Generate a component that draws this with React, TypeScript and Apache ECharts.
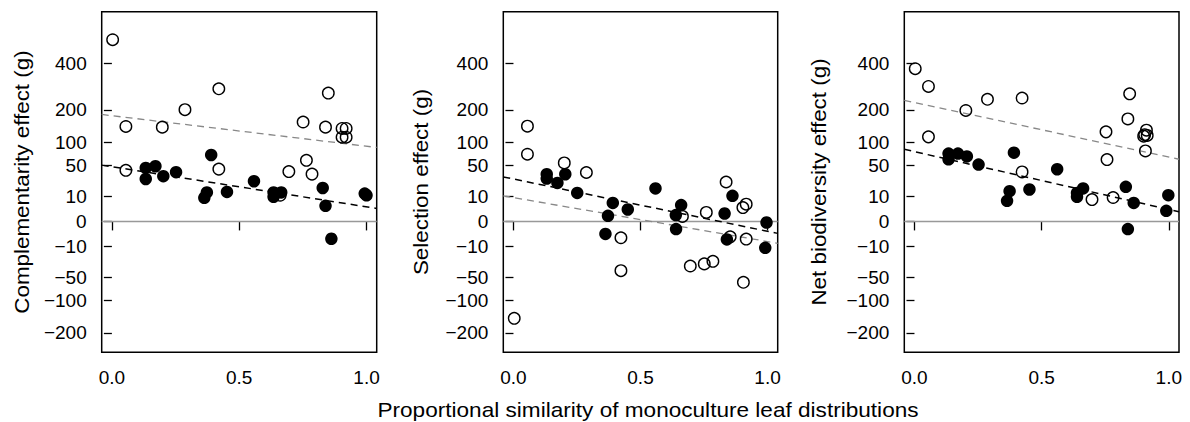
import React, { useEffect, useRef } from "react";
import * as echarts from "echarts";

// ---- data (values in g; x = proportional similarity) ----
const compOpen: number[][] = [
  [0.003, 531], [0.055, 145], [0.198, 143], [0.287, 201], [0.42, 283], [0.85, 265],
  [0.751, 159], [0.839, 143], [0.904, 139], [0.92, 139], [0.904, 114], [0.92, 114],
  [0.055, 42], [0.42, 44], [0.695, 40], [0.764, 60], [0.786, 36], [0.661, 11],
];
const compFilled: number[][] = [
  [0.133, 46], [0.171, 49], [0.133, 29], [0.202, 33], [0.252, 39], [0.39, 71],
  [0.373, 13.5], [0.363, 9], [0.452, 14], [0.558, 26], [0.635, 13.5], [0.635, 9.7],
  [0.665, 13.5], [0.828, 18], [0.839, 3.9], [0.993, 12.5], [1.0, 11], [0.862, -4.85],
];
const compOpenFit: number[][] = [[-0.04, 184], [1.04, 88]];
const compFilledFit: number[][] = [[-0.04, 51], [1.04, 2.7]];

const selOpen: number[][] = [
  [0.055, 146], [0.055, 72.6], [0.2, 55], [0.287, 38.5], [0.837, 25], [0.665, 0.4],
  [0.759, 1.3], [0.903, 3.1], [0.916, 4.8], [0.853, -3.8], [0.916, -5], [0.423, -4.3],
  [0.423, -39], [0.696, -32], [0.751, -29], [0.785, -25.6], [0.905, -59.6], [0.003, -151],
];
const selFilled: number[][] = [
  [0.131, 35.8], [0.131, 29.6], [0.173, 23.9], [0.204, 35.8], [0.251, 13.1], [0.391, 5.5],
  [0.45, 2.3], [0.372, 0.5], [0.362, -2.5], [0.559, 17.5], [0.66, 4.3], [0.639, 0.64],
  [0.64, -0.95], [0.862, 10.5], [0.831, 1.0], [0.84, -5.2], [0.996, -0.02], [0.991, -11.2],
];
const selOpenFit: number[][] = [[-0.04, 10.5], [1.04, -7.7]];
const selFilledFit: number[][] = [[-0.04, 31.9], [1.04, -2.3]];

const netOpen: number[][] = [
  [0.003, 375], [0.055, 293], [0.055, 115], [0.202, 198], [0.287, 240], [0.423, 245],
  [0.423, 39.4], [0.846, 262], [0.839, 169], [0.753, 129], [0.757, 61.6], [0.912, 134],
  [0.901, 117], [0.915, 119], [0.905, 121], [0.908, 80], [0.698, 7.7], [0.781, 9.2],
];
const netFilled: number[][] = [
  [0.134, 74], [0.134, 62], [0.171, 74], [0.206, 68], [0.252, 52], [0.391, 76],
  [0.374, 14.7], [0.364, 6.8], [0.452, 16.4], [0.561, 43.8], [0.663, 17.5], [0.639, 13.1],
  [0.639, 9.7], [0.831, 19.2], [0.862, 5.5], [0.839, -0.95], [0.998, 11.1], [0.99, 1.8],
];
const netOpenFit: number[][] = [[-0.04, 236], [1.04, 62.2]];
const netFilledFit: number[][] = [[-0.04, 83.7], [1.04, 1.5]];

const zeroLine: number[][] = [[-0.04, 0], [1.04, 0]];

const yTickValues = [400, 200, 100, 50, 10, 0, -10, -50, -100, -200];
const xTickValues = [0, 0.5, 1.0];
const yTitles = ["Complementarity effect (g)", "Selection effect (g)", "Net biodiversity effect (g)"];
const xTitle = "Proportional similarity of monoculture leaf distributions";

// signed square-root axis transform
const ssqrt = (v: number) => Math.sign(v) * Math.sqrt(Math.abs(v));
const tr = (pts: number[][]) => pts.map((p) => [p[0], ssqrt(p[1])]);

const FONT = '"Liberation Sans", Arial, Helvetica, sans-serif';

export default function App() {
  const ref = useRef<HTMLDivElement>(null);
  useEffect(() => {
    if (!ref.current) return;
    const chart = echarts.init(ref.current, undefined, { renderer: "svg" });
    const panels = [
      { open: compOpen, filled: compFilled, oFit: compOpenFit, fFit: compFilledFit, left: 101.7, width: 275, titleX: 21.5 },
      { open: selOpen, filled: selFilled, oFit: selOpenFit, fFit: selFilledFit, left: 503.3, width: 274.4, titleX: 421 },
      { open: netOpen, filled: netFilled, oFit: netOpenFit, fFit: netFilledFit, left: 904.3, width: 274.7, titleX: 819 },
    ];
    const yCustom = yTickValues.map(ssqrt);
    const grid: any[] = [];
    const xAxis: any[] = [];
    const yAxis: any[] = [];
    const series: any[] = [];
    const graphic: any[] = [];
    panels.forEach((p, i) => {
      grid.push({
        left: p.left, top: 11.7, width: p.width, height: 340.6,
        show: true, borderColor: "#000", borderWidth: 1.5, backgroundColor: "transparent",
      });
      xAxis.push({
        type: "value", gridIndex: i, min: -0.04, max: 1.04,
        axisLine: { show: false },
        splitLine: { show: false },
        axisTick: { show: true, length: 9, customValues: xTickValues, lineStyle: { color: "#000", width: 1.3 } },
        axisLabel: {
          show: true, customValues: xTickValues, margin: 16, color: "#000",
          fontSize: 19, fontFamily: FONT, formatter: (v: number) => v.toFixed(1),
        },
      });
      yAxis.push({
        type: "value", gridIndex: i, min: -16.6, max: 26.6,
        axisLine: { show: false },
        splitLine: { show: false },
        axisTick: { show: true, length: 8, customValues: yCustom, lineStyle: { color: "#000", width: 1.3 } },
        axisLabel: {
          show: true, customValues: yCustom, margin: 15, color: "#000",
          fontSize: 19, fontFamily: FONT,
          formatter: (v: number) => {
            const r = Math.round(Math.sign(v) * v * v);
            return r < 0 ? "\u2212" + -r : String(r);
          },
        },
      });
      series.push(
        {
          type: "line", xAxisIndex: i, yAxisIndex: i, data: zeroLine, symbol: "none",
          lineStyle: { color: "#999", width: 1.5 }, z: 1, silent: true,
        },
        {
          type: "line", xAxisIndex: i, yAxisIndex: i, data: tr(p.oFit), symbol: "none",
          lineStyle: { color: "#888", width: 1.3, type: [7, 5] }, z: 2, silent: true,
        },
        {
          type: "line", xAxisIndex: i, yAxisIndex: i, data: tr(p.fFit), symbol: "none",
          lineStyle: { color: "#000", width: 1.5, type: [7, 5] }, z: 2, silent: true,
        },
        {
          type: "scatter", xAxisIndex: i, yAxisIndex: i, data: tr(p.filled), symbol: "circle",
          symbolSize: 12.5, itemStyle: { color: "#000", borderWidth: 0, opacity: 1 }, z: 3,
        },
        {
          type: "scatter", xAxisIndex: i, yAxisIndex: i, data: tr(p.open), symbol: "circle",
          symbolSize: 11.5, itemStyle: { color: "rgba(0,0,0,0)", borderColor: "#000", borderWidth: 1.4, opacity: 1 }, z: 4,
        }
      );
      graphic.push({
        type: "text", x: p.titleX, y: 182, rotation: Math.PI / 2, scaleX: 1.12,
        style: {
          text: yTitles[i], font: `20px ${FONT}`, fill: "#000",
          align: "center", verticalAlign: "middle", textAlign: "center", textVerticalAlign: "middle",
        },
      });
    });
    graphic.push({
      type: "text", x: 648, y: 410, scaleX: 1.13,
      style: {
        text: xTitle, font: `20px ${FONT}`, fill: "#000",
        align: "center", verticalAlign: "middle", textAlign: "center", textVerticalAlign: "middle",
      },
    });
    chart.setOption({
      animation: false,
      backgroundColor: "#fff",
      grid, xAxis, yAxis, series, graphic,
    });
    return () => chart.dispose();
  }, []);
  return (
    <div
      ref={ref}
      style={{ position: "absolute", left: 0, top: 0, width: 1190, height: 422 }}
    />
  );
}
